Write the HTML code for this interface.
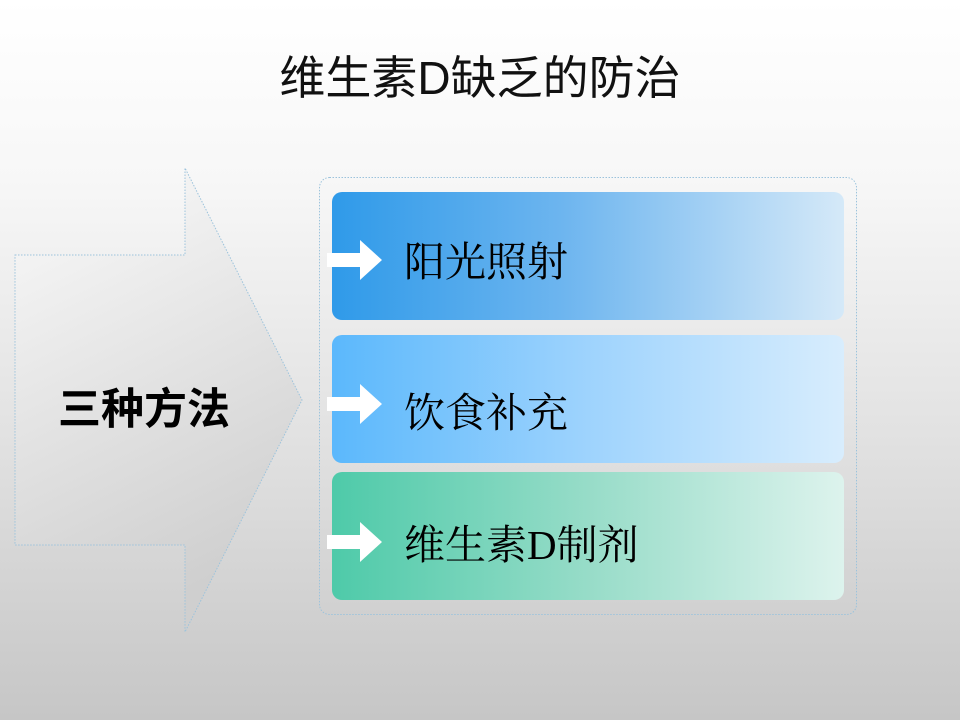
<!DOCTYPE html>
<html><head><meta charset="utf-8"><style>
body{margin:0;width:960px;height:720px;overflow:hidden;background:linear-gradient(to bottom,#ffffff 0%,#f7f7f7 25%,#e2e2e2 60%,#c6c6c6 100%);position:relative;font-family:"Liberation Sans","Noto Sans CJK SC",sans-serif;}
.t{position:absolute;left:0;width:960px;top:42px;text-align:center;font-size:46px;color:#111;font-family:"Liberation Sans","Noto Sans CJK SC",sans-serif;}
.box{position:absolute;left:332px;width:512px;height:128px;border-radius:10px;}
.lab{position:absolute;left:404px;font-size:41px;color:#000;font-family:"Liberation Serif","Noto Serif CJK SC",serif;}
</style></head><body>
<div class="t">维生素D缺乏的防治</div>
<svg width="960" height="720" style="position:absolute;left:0;top:0">
<defs><linearGradient id="ag" x1="0" y1="0" x2="0.3" y2="1"><stop offset="0" stop-color="#fbfbfb"/><stop offset="1" stop-color="#cfcfcf"/></linearGradient></defs>
<polygon points="15,255 185,255 185,168 302,400 185,632 185,545 15,545" fill="url(#ag)" stroke="#9cc3dc" stroke-dasharray="1.5,1.5" stroke-width="1"/>
<rect x="319.5" y="177.5" width="537" height="437" rx="10" fill="none" stroke="#9cc3dc" stroke-dasharray="1.5,1.5"/>
</svg>
<div style="position:absolute;left:58px;top:375px;font-size:43px;color:#000;font-weight:bold;">三种方法</div>
<div class="box" style="top:192px;background:linear-gradient(to right,#2f9ae9,#6db5ef 45%,#d5e9f8)"></div>
<div class="box" style="top:335px;background:linear-gradient(to right,#5bb8fc,#9ed3fd 50%,#d8edfd)"></div>
<div class="box" style="top:472px;background:linear-gradient(to right,#4ecaa9,#97dcc8 50%,#ddf3ed)"></div>
<svg width="960" height="720" style="position:absolute;left:0;top:0">
<g fill="#fff">
<polygon points="327,253 360,253 360,240 382,260 360,280 360,267 327,267"/>
<polygon points="327,397 360,397 360,384 382,404 360,424 360,411 327,411"/>
<polygon points="327,535 360,535 360,522 382,542 360,562 360,549 327,549"/>
</g></svg>
<div class="lab" style="top:229px">阳光照射</div>
<div class="lab" style="top:380px">饮食补充</div>
<div class="lab" style="top:512px">维生素D制剂</div>
</body></html>
